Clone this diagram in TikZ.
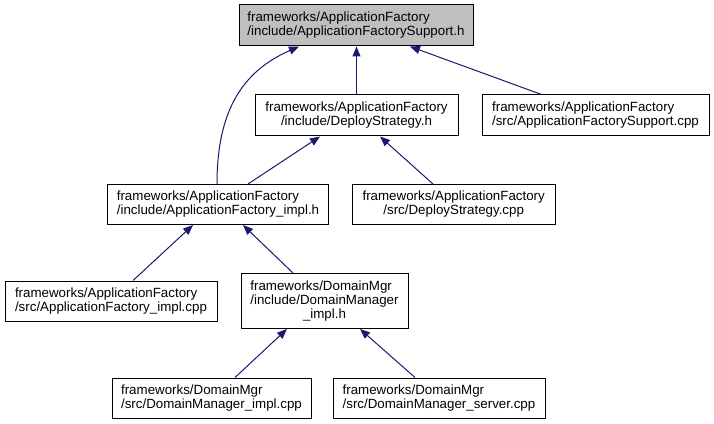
\documentclass[tikz,border=0pt]{standalone}
\usepackage{fontspec}
\setmainfont{Liberation Sans}
\usetikzlibrary{arrows.meta,calc}
\definecolor{edgeblue}{RGB}{25,25,112}
\definecolor{rootgray}{RGB}{191,191,191}
\begin{document}
\begin{tikzpicture}[x=0.75pt,y=-0.75pt,
  box/.style={draw=black,line width=0.75pt,fill=white,rectangle,inner sep=0pt,
    font=\fontsize{10}{10.5}\selectfont,align=left},
  bx/.style 2 args={minimum width=#1*0.75pt,minimum height=#2*0.75pt},
  edge/.style={draw=edgeblue,line width=0.75pt,-{Triangle[length=7.5pt,width=6pt]}}]
\useasboundingbox (0,0) rectangle (714,424);

\node[box,fill=rootgray,bx={234}{41}] (top) at (356,25.5) {frameworks/ApplicationFactory\\/include/ApplicationFactorySupport.h};
\node[box,align=center,bx={203}{41}] (dsh) at (356.5,115.5) {frameworks/ApplicationFactory\\/include/DeployStrategy.h};
\node[box,bx={227}{41}] (afsc) at (595.5,115.5) {frameworks/ApplicationFactory\\/src/ApplicationFactorySupport.cpp};
\node[box,bx={221}{40}] (afih) at (218,204.5) {frameworks/ApplicationFactory\\/include/ApplicationFactory\_impl.h};
\node[box,align=center,bx={203}{40}] (dsc) at (453.7,204.5) {frameworks/ApplicationFactory\\/src/DeployStrategy.cpp};
\node[box,bx={212}{40}] (afic) at (111,301) {frameworks/ApplicationFactory\\/src/ApplicationFactory\_impl.cpp};
\node[box,align=center,bx={167}{55}] (dmih) at (324.5,301) {\makebox[0pt][l]{frameworks/DomainMgr}\phantom{/include/DomainManager}\\/include/DomainManager\\\_impl.h};
\node[box,bx={199}{40}] (dmic) at (211.5,398) {frameworks/DomainMgr\\/src/DomainManager\_impl.cpp};
\node[box,bx={212}{40}] (dmsc) at (439,398) {frameworks/DomainMgr\\/src/DomainManager\_server.cpp};

\draw[edge] ($(afih.north)+(-1,0)$) .. controls (217,110) and (243,71) .. ($(top.south)+(-57,0)$);
\draw[edge] (dsh.north) -- (dsh.north |- top.south);
\draw[edge] ($(afsc.north)+(-54,0)$) -- ($(top.south)+(54,0)$);
\draw[edge] ($(afih.north)+(30,0)$) -- ($(dsh.south)+(-36.5,0)$);
\draw[edge] ($(dsc.north)+(-20.7,0)$) -- ($(dsh.south)+(23.5,0)$);
\draw[edge] ($(afic.north)+(22,0)$) -- ($(afih.south)+(-25,0)$);
\draw[edge] ($(dmih.north)+(-31.5,0)$) -- ($(afih.south)+(25,0)$);
\draw[edge] ($(dmic.north)+(23.5,0)$) -- ($(dmih.south)+(-37.5,0)$);
\draw[edge] ($(dmsc.north)+(-24,0)$) -- ($(dmih.south)+(35.5,0)$);
\end{tikzpicture}
\end{document}
